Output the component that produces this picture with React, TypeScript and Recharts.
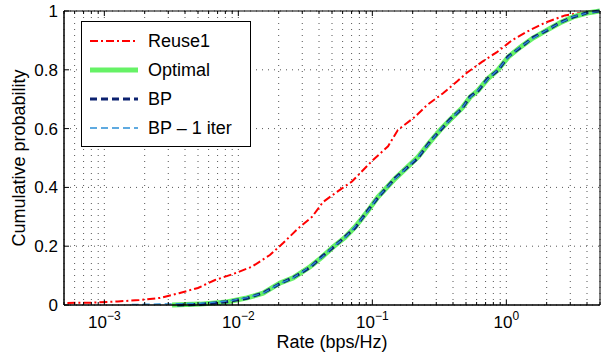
import React from 'react';
import { LineChart, Line, XAxis, YAxis, CartesianGrid } from 'recharts';

// CDF curves (rate in bps/Hz, cumulative probability)
const reuseRate = [5.3e-4, 8e-4, 1.26e-3, 1.82e-3, 2.6e-3, 3.6e-3, 5.0e-3, 6.7e-3, 9.1e-3, 0.0126, 0.0172, 0.0215, 0.0279, 0.0355, 0.0428, 0.0545, 0.0705, 0.0995, 0.131, 0.155, 0.208, 0.256, 0.337, 0.428, 0.508, 0.658, 0.851, 1.1, 1.43, 1.94, 2.74, 4.2, 5];
const reuseCdf = [0.007, 0.008, 0.012, 0.017, 0.024, 0.04, 0.058, 0.085, 0.105, 0.13, 0.17, 0.21, 0.26, 0.3, 0.35, 0.385, 0.42, 0.49, 0.54, 0.595, 0.64, 0.68, 0.72, 0.76, 0.79, 0.827, 0.86, 0.9, 0.93, 0.96, 0.985, 0.998, 1];

const optimalRate = [3.2e-3, 5.2e-3, 8.2e-3, 0.0116, 0.0153, 0.0205, 0.0256, 0.0343, 0.0421, 0.0508, 0.0625, 0.0742, 0.0912, 0.11, 0.148, 0.219, 0.269, 0.32, 0.38, 0.467, 0.536, 0.615, 0.73, 0.867, 1.03, 1.27, 1.58, 2.01, 2.52, 3.15, 4.0, 5.0];
const optimalCdf = [0, 0.003, 0.01, 0.024, 0.04, 0.075, 0.092, 0.13, 0.163, 0.197, 0.23, 0.265, 0.316, 0.367, 0.43, 0.503, 0.554, 0.595, 0.63, 0.67, 0.707, 0.73, 0.77, 0.8, 0.843, 0.877, 0.908, 0.935, 0.96, 0.98, 0.993, 1];

const bpRate = [3.5e-3, 5.2e-3, 8.2e-3, 0.0116, 0.0153, 0.0205, 0.0256, 0.0343, 0.0421, 0.0508, 0.0625, 0.0742, 0.0912, 0.11, 0.148, 0.219, 0.269, 0.32, 0.38, 0.467, 0.536, 0.615, 0.73, 0.867, 1.03, 1.27, 1.58, 2.01, 2.52, 3.15, 4.0, 5.0];
const bpCdf = [0, 0.002, 0.011, 0.023, 0.041, 0.073, 0.093, 0.128, 0.165, 0.195, 0.232, 0.262, 0.318, 0.365, 0.432, 0.5, 0.556, 0.593, 0.632, 0.668, 0.709, 0.728, 0.772, 0.798, 0.845, 0.875, 0.91, 0.934, 0.961, 0.979, 0.994, 1];

const bp1Rate = [1.6e-3, 3.2e-3, 5.2e-3, 8.2e-3, 0.0116, 0.0153, 0.0205, 0.0256, 0.0343, 0.0421, 0.0508, 0.0625, 0.0742, 0.0912, 0.11, 0.148, 0.219, 0.269, 0.32, 0.38, 0.467, 0.536, 0.615, 0.73, 0.867, 1.03, 1.27, 1.58, 2.01, 2.52, 3.15, 4.0, 5.0];
const bp1Cdf = [0.002, 0.004, 0.006, 0.013, 0.025, 0.04, 0.074, 0.092, 0.131, 0.162, 0.198, 0.229, 0.266, 0.315, 0.368, 0.429, 0.504, 0.553, 0.596, 0.629, 0.671, 0.706, 0.731, 0.769, 0.801, 0.842, 0.878, 0.907, 0.936, 0.959, 0.981, 0.993, 1];

const majorTicks = [1e-3, 1e-2, 1e-1, 1];
const majorExponents = ['\u22123', '\u22122', '\u22121', '0'];
const minorFactors = [2, 3, 4, 5, 6, 7, 8, 9];
const yTicks = [0, 0.2, 0.4, 0.6, 0.8, 1];
const yTickLabels = ['0', '0.2', '0.4', '0.6', '0.8', '1'];

const xDomain: [number, number] = [5e-4, 5];

const xTicks = [
  5e-4, 6e-4, 7e-4, 8e-4, 9e-4,
  ...majorTicks.flatMap((d) => [d, ...minorFactors.map((f) => +(f * d).toPrecision(3))]),
].filter((v) => v <= xDomain[1]);

const zip = (xs: number[], ys: number[]) => xs.map((rate, i) => ({ rate, cdf: ys[i] }));

const series = [
  { name: 'Reuse1', data: zip(reuseRate, reuseCdf), color: '#ff0000', width: 2, dash: '8 3 2 3' },
  { name: 'Optimal', data: zip(optimalRate, optimalCdf), color: '#66f266', width: 5, dash: undefined },
  { name: 'BP', data: zip(bpRate, bpCdf), color: '#0c2270', width: 3, dash: '7 4' },
  { name: 'BP \u2013 1 iter', data: zip(bp1Rate, bp1Cdf), color: '#2b8fd6', width: 1.3, dash: '7 4' },
];

const FONT = '"Liberation Sans", Arial, Helvetica, sans-serif';
const TICK_SIZE = 17;
const LABEL_SIZE = 18;

const isMajor = (v: number) => majorTicks.some((m) => Math.abs(m - v) / m < 1e-6);

function BottomTick(props: any) {
  const { x, y, payload } = props;
  const v = payload.value;
  const idx = majorTicks.findIndex((m) => Math.abs(m - v) / m < 1e-6);
  const major = idx >= 0;
  return (
    <g>
      <line x1={x} x2={x} y1={y} y2={y - (major ? 5 : 3)} stroke="#000" strokeWidth={1} />
      {major && (
        <text x={x} y={y + 23} textAnchor="middle" fontFamily={FONT} fontSize={TICK_SIZE} fill="#000">
          <tspan>10</tspan>
          <tspan dy={-8} fontSize={12}>{majorExponents[idx]}</tspan>
        </text>
      )}
    </g>
  );
}

function TopTick(props: any) {
  const { x, y, payload } = props;
  const major = isMajor(payload.value);
  return <line x1={x} x2={x} y1={y} y2={y + (major ? 5 : 3)} stroke="#000" strokeWidth={1} />;
}

function LeftTick(props: any) {
  const { x, y, payload, index } = props;
  return (
    <g>
      <line x1={x} x2={x + 5} y1={y} y2={y} stroke="#000" strokeWidth={1} />
      <text x={x - 6} y={y + 6} textAnchor="end" fontFamily={FONT} fontSize={TICK_SIZE} fill="#000">
        {yTickLabels[index] ?? String(payload.value)}
      </text>
    </g>
  );
}

function RightTick(props: any) {
  const { x, y } = props;
  return <line x1={x} x2={x - 5} y1={y} y2={y} stroke="#000" strokeWidth={1} />;
}

function LegendBox() {
  return (
    <div
      style={{
        position: 'absolute',
        left: 81,
        top: 21,
        width: 168,
        height: 124,
        border: '1px solid #000',
        background: '#fff',
      }}
    >
      <svg width={168} height={124}>
        {series.map((s, i) => {
          const cy = 19 + i * 29;
          return (
            <g key={s.name}>
              <line
                x1={8}
                x2={56}
                y1={cy}
                y2={cy}
                stroke={s.color}
                strokeWidth={s.width}
                strokeDasharray={s.dash}
              />
              <text x={66} y={cy + 6} fontFamily={FONT} fontSize={LABEL_SIZE} fill="#000">
                {s.name}
              </text>
            </g>
          );
        })}
      </svg>
    </div>
  );
}

export default function App() {
  return (
    <div style={{ position: 'absolute', left: 0, top: 0, width: 601, height: 356, background: '#fff' }}>
      <LineChart width={601} height={356} margin={{ top: 0, right: 0, bottom: 0, left: 0 }}>
        <CartesianGrid stroke="#555" strokeDasharray="1 5" strokeWidth={1} />
        <XAxis
          dataKey="rate"
          type="number"
          scale="log"
          domain={xDomain}
          allowDataOverflow
          ticks={xTicks}
          interval={0}
          height={51}
          tickSize={0}
          tickMargin={0}
          tickLine={false}
          axisLine={{ stroke: '#000', strokeWidth: 1.5 }}
          tick={<BottomTick />}
          label={{
            content: () => (
              <text x={332} y={348} textAnchor="middle" fontFamily={FONT} fontSize={LABEL_SIZE} fill="#000">
                Rate (bps/Hz)
              </text>
            ),
          }}
        />
        <XAxis
          xAxisId="top"
          orientation="top"
          dataKey="rate"
          type="number"
          scale="log"
          domain={xDomain}
          allowDataOverflow
          ticks={xTicks}
          interval={0}
          height={11}
          tickSize={0}
          tickMargin={0}
          tickLine={false}
          axisLine={{ stroke: '#000', strokeWidth: 1 }}
          tick={<TopTick />}
        />
        <YAxis
          type="number"
          domain={[0, 1]}
          ticks={yTicks}
          interval={0}
          width={64}
          tickSize={0}
          tickMargin={0}
          tickLine={false}
          axisLine={{ stroke: '#000', strokeWidth: 1.5 }}
          tick={<LeftTick />}
          label={{
            content: () => (
              <text
                x={25}
                y={158}
                transform="rotate(-90, 25, 158)"
                textAnchor="middle"
                fontFamily={FONT}
                fontSize={LABEL_SIZE}
                fill="#000"
              >
                Cumulative probability
              </text>
            ),
          }}
        />
        <YAxis
          yAxisId="right"
          orientation="right"
          type="number"
          domain={[0, 1]}
          ticks={yTicks}
          interval={0}
          width={1}
          tickSize={0}
          tickMargin={0}
          tickLine={false}
          axisLine={{ stroke: '#000', strokeWidth: 1 }}
          tick={<RightTick />}
        />
        {series.map((s) => (
          <Line
            key={s.name}
            data={s.data}
            dataKey="cdf"
            name={s.name}
            type="linear"
            stroke={s.color}
            strokeWidth={s.width}
            strokeDasharray={s.dash}
            dot={false}
            activeDot={false}
            isAnimationActive={false}
          />
        ))}
      </LineChart>
      <LegendBox />
    </div>
  );
}
